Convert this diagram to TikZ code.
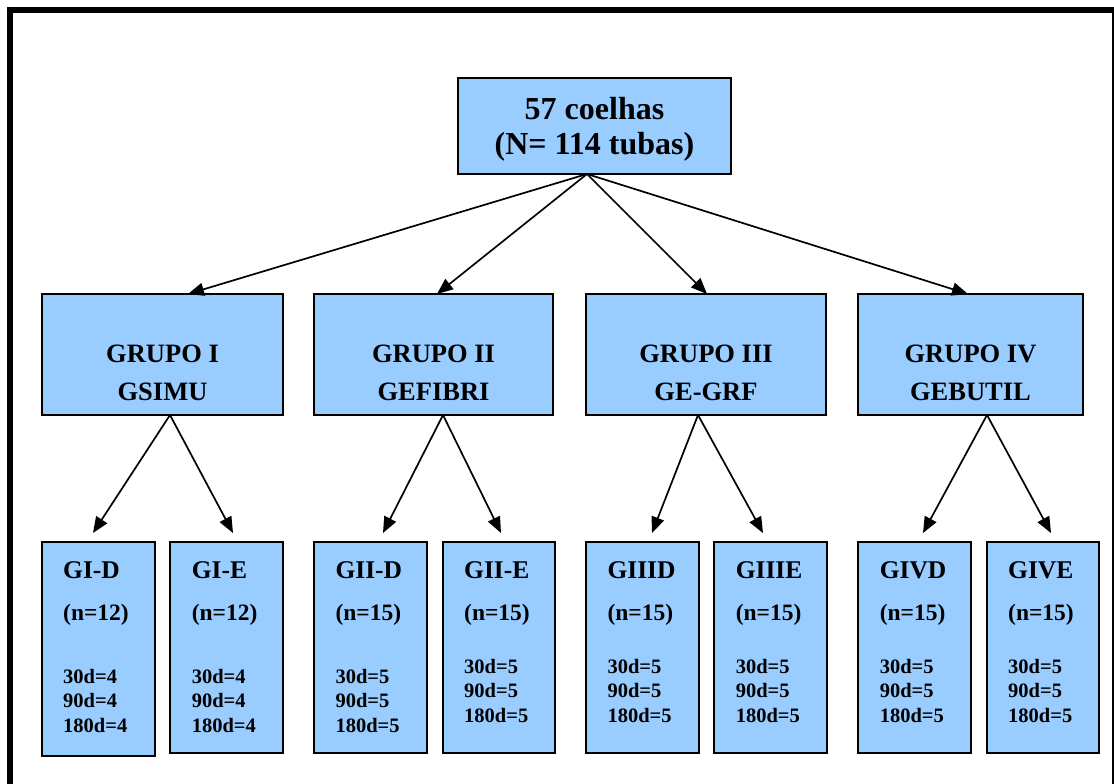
\documentclass[tikz,border=0pt]{standalone}
\usepackage{fontspec}
\setmainfont{Liberation Serif}
\usetikzlibrary{arrows.meta}
\definecolor{boxblue}{HTML}{99CCFF}
\tikzset{
  box/.style={draw=black, line width=1.7pt, fill=boxblue, inner sep=0pt, outer sep=0pt},
  lbl/.style={inner sep=0pt, outer sep=0pt, text=black},
  arr/.style={line width=1.7pt, -{Triangle[length=16pt,width=13pt]}},
}
\newcommand{\fsz}[1]{\fontsize{#1}{#1}\selectfont\bfseries}
\begin{document}
\begin{tikzpicture}[x=1pt,y=-1pt]
\useasboundingbox (0,0) rectangle (1114,784);
\fill[white] (0,0) rectangle (1114,784);
\draw[line width=5.6pt] (10,10.3) rectangle (1114.6,830);

% top node
\node[box, minimum width=273pt, minimum height=96pt] (top) at (594.5,126) {};
\node[lbl, anchor=base, font=\fsz{32}] (top1) at (594.5,119) {57 coelhas};
\node[lbl, anchor=base, font=\fsz{32}] (top2) at (594.5,154) {(N= 114 tubas)};

% groups
\foreach \n/\xa/\xb/\ta/\tb in {g1/42/283/GRUPO I/GSIMU, g2/314/553/GRUPO II/GEFIBRI, g3/586/826/GRUPO III/GE-GRF, g4/858.3/1082.7/GRUPO IV/GEBUTIL}{
  \pgfmathsetmacro\cx{(\xa+\xb)/2}
  \pgfmathsetmacro\w{\xb-\xa}
  \node[box, minimum width=\w pt, minimum height=121pt] (\n) at (\cx,354.5) {};
  \node[lbl, anchor=base, font=\fsz{26.5}] (\n-a) at (\cx,362) {\ta};
  \node[lbl, anchor=base, font=\fsz{26.5}] (\n-b) at (\cx,400) {\tb};
}

% subgroups
\foreach \n/\xa/\xb/\yb/\ti/\nn/\ya/\k in {
  sd1/41.7/155/755.7/GI-D/12/683.3/4,
  se1/170.3/283.3/753.3/GI-E/12/683.3/4,
  sd2/314/427.3/753/GII-D/15/683.3/5,
  se2/442.7/555/753/GII-E/15/673.3/5,
  sd3/586/699.3/753/GIIID/15/673.3/5,
  se3/714.3/827.3/753/GIIIE/15/673.3/5,
  sd4/858.3/970.7/753/GIVD/15/673.3/5,
  se4/986.7/1099.3/753/GIVE/15/673.3/5}{
  \pgfmathsetmacro\w{\xb-\xa}
  \pgfmathsetmacro\h{\yb-542}
  \node[box, anchor=north west, minimum width=\w pt, minimum height=\h pt] (\n) at (\xa,542) {};
  \node[lbl, anchor=base west, font=\fsz{25.5}] (\n-t) at ({\xa+21.5},578.3) {\ti};
  \node[lbl, anchor=base west, font=\fsz{23.5}] (\n-n) at ({\xa+21.5},620) {(n=\nn)};
  \node[lbl, anchor=base west, font=\fsz{20.5}] (\n-p) at ({\xa+21.5},\ya) {30d=\k};
  \node[lbl, anchor=base west, font=\fsz{20.5}] (\n-q) at ({\xa+21.5},{\ya+24.5}) {90d=\k};
  \node[lbl, anchor=base west, font=\fsz{20.5}] (\n-r) at ({\xa+21.5},{\ya+49}) {180d=\k};
}

% arrows from top
\coordinate (o) at (587,174);
\draw[arr] (o) -- ([xshift=25.5pt]g1.north);
\draw[arr] (o) -- ([xshift=3.5pt]g2.north);
\draw[arr] (o) -- ([xshift=1pt]g3.north);
\draw[arr] (o) -- ([xshift=-2.5pt]g4.north);

% arrows from groups
\coordinate (t1a) at (93,533);
\coordinate (t1b) at (233,533);
\coordinate (t2a) at (383,533);
\coordinate (t2b) at (501,533);
\coordinate (t3a) at (652,533);
\coordinate (t3b) at (763,533);
\coordinate (t4a) at (923,533);
\coordinate (t4b) at (1051,533);
\draw[arr] ([xshift=7.5pt]g1.south) -- (t1a);
\draw[arr] ([xshift=7.5pt]g1.south) -- (t1b);
\draw[arr] ([xshift=9.5pt]g2.south) -- (t2a);
\draw[arr] ([xshift=9.5pt]g2.south) -- (t2b);
\draw[arr] ([xshift=-8pt]g3.south) -- (t3a);
\draw[arr] ([xshift=-8pt]g3.south) -- (t3b);
\draw[arr] ([xshift=16.5pt]g4.south) -- (t4a);
\draw[arr] ([xshift=16.5pt]g4.south) -- (t4b);
\end{tikzpicture}
\end{document}
